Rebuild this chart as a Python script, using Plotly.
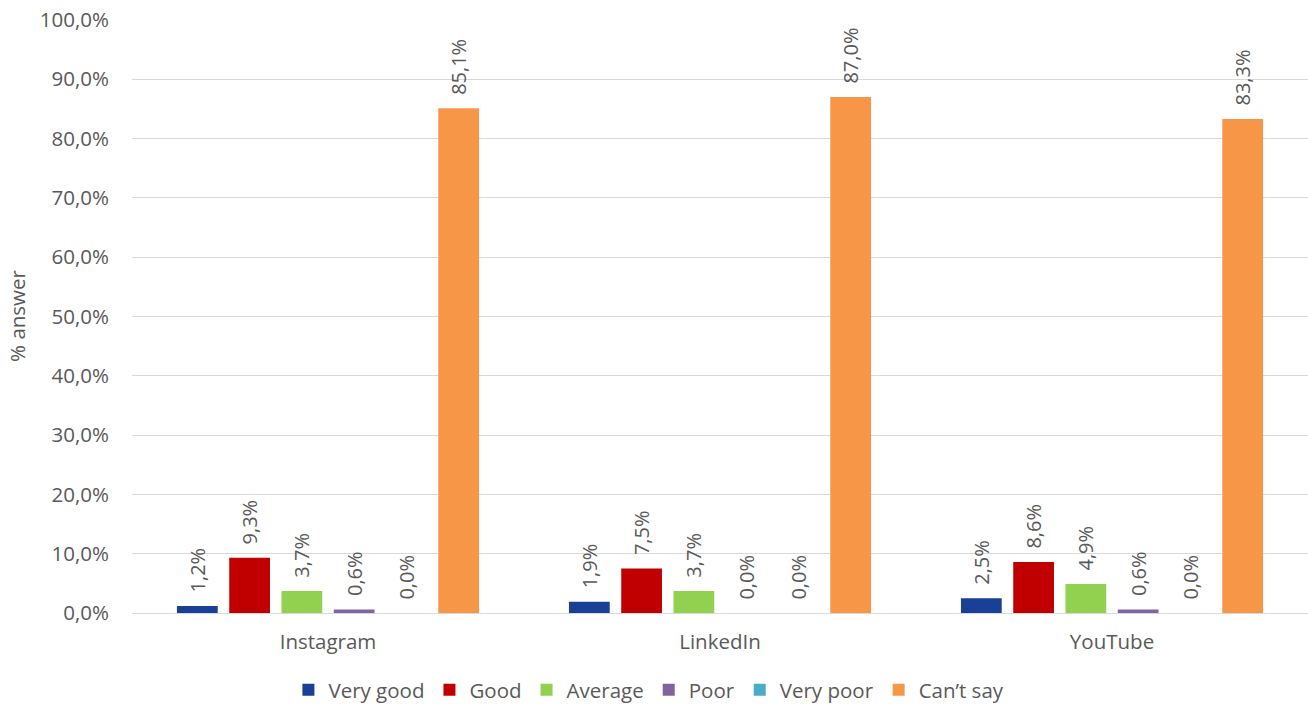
import plotly.graph_objects as go

categories = ["Instagram", "LinkedIn", "YouTube"]
series_names = ["Very good", "Good", "Average", "Poor", "Very poor", "Can\u2019t say"]
very_good = [1.2, 1.9, 2.5]
good = [9.3, 7.5, 8.6]
average = [3.7, 3.7, 4.9]
poor = [0.6, 0.0, 0.6]
very_poor = [0.0, 0.0, 0.0]
cant_say = [85.1, 87.0, 83.3]
y_ticks = [0, 10, 20, 30, 40, 50, 60, 70, 80, 90, 100]
y_tick_labels = [f"{v:.1f}%".replace(".", ",") for v in y_ticks]

colors = ["#1a3f96", "#c00000", "#92d050", "#8064a2", "#4bacc6", "#f79646"]
series_values = [very_good, good, average, poor, very_poor, cant_say]

FONT = "Open Sans"
GRAY = "#595959"
FS = 20.5

fig = go.Figure()
for name, vals, col in zip(series_names, series_values, colors):
    fig.add_trace(go.Bar(
        name=name, x=categories, y=vals,
        marker=dict(color=col, line=dict(width=0)),
        texttemplate="\u00a0\u00a0%{y:.1f}%",
        textposition="outside", textangle=-90,
        constraintext="none",
        textfont=dict(family=FONT, size=20, color=GRAY),
        cliponaxis=False,
    ))

fig.update_layout(
    width=1308, height=704,
    barmode="group", bargap=0.2, bargroupgap=0.22,
    separators=",.",
    paper_bgcolor="white", plot_bgcolor="white",
    margin=dict(l=132, r=0, t=19, b=91, autoexpand=False),
    font=dict(family=FONT, size=FS, color=GRAY),
    showlegend=True,
    legend=dict(orientation="h", x=0.133, xanchor="left", y=-0.096, yanchor="top",
                font=dict(family=FONT, size=FS, color=GRAY),
                traceorder="normal"),
    xaxis=dict(showgrid=False, showline=False, ticks="", automargin=False,
               ticklabelstandoff=14,
               tickfont=dict(size=FS, color=GRAY)),
    yaxis=dict(range=[0, 100.15], tickvals=y_ticks, ticktext=y_tick_labels,
               showgrid=True, gridcolor="#d9d9d9", gridwidth=1,
               zeroline=True, zerolinecolor="#d9d9d9", zerolinewidth=1,
               showline=False, ticks="", automargin=False,
               ticklabelstandoff=22, ticklabeloverflow="allow",
               tickfont=dict(size=FS, color=GRAY),
               title=dict(text="% answer", font=dict(size=FS, color=GRAY), standoff=8)),
)

fig.write_html(
    "out.html",
    config={"displayModeBar": False},
    post_script="document.body.style.margin='0';document.body.style.overflow='hidden';",
)
